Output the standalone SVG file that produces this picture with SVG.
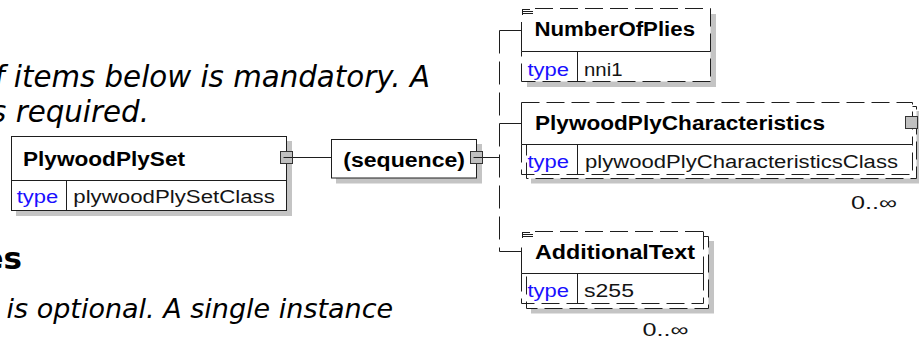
<svg xmlns="http://www.w3.org/2000/svg" width="919" height="345" viewBox="0 0 919 345">
<style>
.ln{stroke:#1e1e1e;stroke-width:1;fill:none}
.dash{stroke-dasharray:18 7}
.bus{stroke-dasharray:23 8}
.shadow{fill:#c4c4c4}
.white{fill:#fff}
.box{fill:#fff;stroke:#1e1e1e;stroke-width:1}
.port{fill:#c0c0c0;stroke:#333;stroke-width:1}
.name{font-family:"Liberation Sans",Arial,sans-serif;font-weight:bold;font-size:20px;fill:#000}
.kw{font-family:"Liberation Sans",Arial,sans-serif;font-size:18px;fill:#1a10ff}
.val{font-family:"Liberation Sans",Arial,sans-serif;font-size:18px;fill:#141414}
.occ{font-family:"Liberation Sans",Arial,sans-serif;font-size:18px;fill:#141414}
.para{font-family:"DejaVu Sans",Verdana,sans-serif;font-style:italic;fill:#000}
.head{font-family:"DejaVu Sans",Verdana,sans-serif;font-weight:bold;fill:#000}
</style>
<rect x="0" y="0" width="919" height="345" fill="#fff"/>

<g id="background-text">
<text class="para" x="430" y="87" font-size="29.3" text-anchor="end">f items below is mandatory. A</text>
<text class="para" x="149" y="121.5" font-size="29.3" text-anchor="end">s required.</text>
<text class="head" x="22" y="269" font-size="31" text-anchor="end">es</text>
<text class="para" x="6.5" y="318" font-size="27">is optional. A single instance</text>
</g>

<g id="connectors">
<line class="ln" x1="292.5" y1="157.5" x2="331.5" y2="157.5"/>
<line class="ln" x1="482.5" y1="157.5" x2="499.5" y2="157.5"/>
<line class="ln bus" x1="499.5" y1="30.5" x2="499.5" y2="251.5"/>
<line class="ln" x1="499.5" y1="30.5" x2="521.5" y2="30.5"/>
<line class="ln" x1="499.5" y1="123.5" x2="521.5" y2="123.5"/>
<line class="ln" x1="499.5" y1="251.5" x2="521.5" y2="251.5"/>
</g>

<g id="PlywoodPlySet">
<rect class="shadow" x="16" y="141" width="276" height="75"/>
<rect class="box" x="11.5" y="136.5" width="275" height="74"/>
<line class="ln" x1="11.5" y1="180.5" x2="286.5" y2="180.5"/>
<line class="ln" x1="66.5" y1="180.5" x2="66.5" y2="210.5"/>
<text class="name" x="23" y="166" textLength="162" lengthAdjust="spacingAndGlyphs">PlywoodPlySet</text>
<text class="kw" x="16.7" y="203" textLength="41.5" lengthAdjust="spacingAndGlyphs">type</text>
<text class="val" x="73.3" y="203" textLength="201.5" lengthAdjust="spacingAndGlyphs">plywoodPlySetClass</text>
<rect class="port" x="280.5" y="151.5" width="12" height="12"/>
<line class="ln" x1="283.5" y1="157.5" x2="292.5" y2="157.5"/>
</g>

<g id="sequence">
<rect class="shadow" x="336" y="144" width="146" height="39.5"/>
<rect class="box" x="331.5" y="139.5" width="145" height="38.5"/>
<text class="name" x="343.3" y="167" textLength="121.7" lengthAdjust="spacingAndGlyphs">(sequence)</text>
<rect class="port" x="470.5" y="151.5" width="12" height="12"/>
<line class="ln" x1="473.5" y1="157.5" x2="482.5" y2="157.5"/>
</g>

<g id="NumberOfPlies">
<rect class="shadow" x="527" y="14" width="189" height="73"/>
<rect class="white" x="521.5" y="8.5" width="189" height="73"/>
<line class="ln dash" x1="535" y1="8.5" x2="710.5" y2="8.5"/>
<line class="ln dash" x1="710.5" y1="8.5" x2="710.5" y2="81.5"/>
<line class="ln dash" x1="710.5" y1="81.5" x2="521.5" y2="81.5"/>
<line class="ln dash" x1="521.5" y1="81.5" x2="521.5" y2="51.5"/>
<line class="ln" x1="521.5" y1="22" x2="521.5" y2="51.5"/>
<line class="ln" x1="521.5" y1="51.5" x2="710.5" y2="51.5"/>
<line class="ln" x1="577.5" y1="51.5" x2="577.5" y2="81.5"/>
<path class="ln" d="M522.5 9v6M523 9.5h7M523 11.5h10M523 13.5h10"/>
<text class="name" x="534.5" y="36" textLength="160.5" lengthAdjust="spacingAndGlyphs">NumberOfPlies</text>
<text class="kw" x="527.5" y="75.5" textLength="41.5" lengthAdjust="spacingAndGlyphs">type</text>
<text class="val" x="584" y="75.5" textLength="38.5" lengthAdjust="spacingAndGlyphs">nni1</text>
</g>

<g id="PlywoodPlyCharacteristics">
<rect class="shadow" x="531" y="111" width="391" height="72.5"/>
<rect class="box dash" x="526.5" y="106.5" width="390" height="72"/>
<rect class="box dash" x="521.5" y="102.5" width="391" height="42"/>
<path class="ln dash" d="M521.5 144.5V174.5H912.5V144.5"/>
<line class="ln" x1="521.5" y1="111.5" x2="521.5" y2="144.5"/>
<line class="ln" x1="521.5" y1="144.5" x2="912.5" y2="144.5"/>
<line class="ln" x1="577.5" y1="144.5" x2="577.5" y2="174.5"/>
<text class="name" x="535" y="129.5" textLength="290" lengthAdjust="spacingAndGlyphs">PlywoodPlyCharacteristics</text>
<text class="kw" x="527.5" y="167.5" textLength="41.5" lengthAdjust="spacingAndGlyphs">type</text>
<text class="val" x="585" y="167.5" textLength="313" lengthAdjust="spacingAndGlyphs">plywoodPlyCharacteristicsClass</text>
<rect class="port" x="905.5" y="116.5" width="12" height="12"/>
<text class="occ" x="851" y="209" textLength="46" lengthAdjust="spacingAndGlyphs">0..∞</text>
</g>

<g id="AdditionalText">
<rect class="shadow" x="531" y="241" width="183" height="72.5"/>
<rect class="box dash" x="526.5" y="236.5" width="182" height="72"/>
<rect class="white" x="521.5" y="231.5" width="182" height="42"/>
<line class="ln dash" x1="535" y1="231.5" x2="703.5" y2="231.5"/>
<line class="ln dash" x1="703.5" y1="231.5" x2="703.5" y2="273.5"/>
<path class="ln dash" d="M521.5 273.5V303.5H703.5V273.5"/>
<line class="ln" x1="521.5" y1="247.5" x2="521.5" y2="273.5"/>
<line class="ln" x1="521.5" y1="273.5" x2="703.5" y2="273.5"/>
<line class="ln" x1="577.5" y1="273.5" x2="577.5" y2="303.5"/>
<path class="ln" d="M522.5 232v6M523 232.5h7M523 234.5h10M523 236.5h10"/>
<text class="name" x="535" y="258.5" textLength="160" lengthAdjust="spacingAndGlyphs">AdditionalText</text>
<text class="kw" x="527.5" y="296.5" textLength="41.5" lengthAdjust="spacingAndGlyphs">type</text>
<text class="val" x="584" y="296.5" textLength="50" lengthAdjust="spacingAndGlyphs">s255</text>
<text class="occ" x="642.5" y="335.5" textLength="46" lengthAdjust="spacingAndGlyphs">0..∞</text>
</g>
</svg>
